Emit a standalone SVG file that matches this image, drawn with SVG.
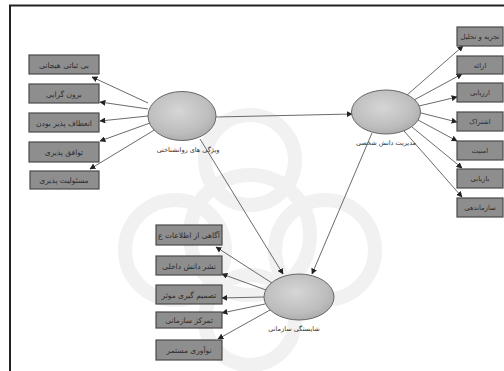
<svg xmlns="http://www.w3.org/2000/svg" width="504" height="371" viewBox="0 0 504 371">
<defs>
<radialGradient id="eg" cx="0.45" cy="0.4" r="0.65">
<stop offset="0" stop-color="#d6d6d6"/>
<stop offset="0.7" stop-color="#bdbdbd"/>
<stop offset="1" stop-color="#a9a9a9"/>
</radialGradient>
<marker id="ah" viewBox="0 0 10 10" refX="9" refY="5" markerWidth="6" markerHeight="6" orient="auto" markerUnits="userSpaceOnUse">
<path d="M0,0 L10,5 L0,10 z" fill="#222"/>
</marker>
</defs>
<style>
.bx{fill:#8e8e8e;stroke:#4a4a4a;stroke-width:1.2}
.bt{font-family:"DejaVu Sans",sans-serif;font-size:7.5px;fill:#2b2b2b;text-anchor:middle}
.rt{font-size:6.8px}
.el{fill:url(#eg);stroke:#666;stroke-width:1}
.lb{font-family:"DejaVu Sans",sans-serif;font-size:6.5px;fill:#333;text-anchor:middle}
.cn{stroke:#5a5a5a;stroke-width:0.9;fill:none;marker-end:url(#ah)}
.wm{fill:none;stroke:#f1f1f1;stroke-width:14}
</style>
<rect width="504" height="371" fill="#fff"/>
<g id="watermark">
<circle class="wm" cx="250" cy="235" r="60"/>
<circle class="wm" cx="175" cy="250" r="50"/>
<circle class="wm" cx="325" cy="250" r="50"/>
<circle class="wm" cx="250" cy="160" r="45"/>
<circle class="wm" cx="250" cy="320" r="45"/>
</g>
<g id="frame">
<line x1="9" y1="5.5" x2="504" y2="5.5" stroke="#222" stroke-width="2"/>
<line x1="10" y1="5" x2="10" y2="371" stroke="#222" stroke-width="2"/>
</g>
<g id="connectors">
<line class="cn" x1="148" y1="103" x2="92" y2="77"/>
<line class="cn" x1="148" y1="109" x2="100" y2="102"/>
<line class="cn" x1="148" y1="116" x2="100" y2="121"/>
<line class="cn" x1="150" y1="123" x2="100" y2="141"/>
<line class="cn" x1="156" y1="129" x2="90" y2="169"/>
<line class="cn" x1="216" y1="117" x2="352" y2="114"/>
<line class="cn" x1="200" y1="139" x2="283" y2="274"/>
<line class="cn" x1="372" y1="133" x2="312" y2="274"/>
<line class="cn" x1="407" y1="95" x2="463" y2="46"/>
<line class="cn" x1="414" y1="100" x2="462" y2="74"/>
<line class="cn" x1="419" y1="106" x2="457" y2="97"/>
<line class="cn" x1="421" y1="113" x2="457" y2="122"/>
<line class="cn" x1="418" y1="120" x2="457" y2="141"/>
<line class="cn" x1="412" y1="127" x2="462" y2="168"/>
<line class="cn" x1="404" y1="131" x2="462" y2="197"/>
<line class="cn" x1="272" y1="283" x2="216" y2="247"/>
<line class="cn" x1="266" y1="290" x2="222" y2="274"/>
<line class="cn" x1="264" y1="297" x2="222" y2="298"/>
<line class="cn" x1="265" y1="304" x2="222" y2="313"/>
<line class="cn" x1="270" y1="310" x2="218" y2="339"/>
</g>
<g id="psych">
<ellipse class="el" cx="182" cy="116" rx="34" ry="24.5"/>
<text class="lb" x="188" y="152">ویژگی های روانشناختی</text>
</g>
<g id="pkm">
<ellipse class="el" cx="386" cy="112" rx="34.5" ry="22"/>
<text class="lb" x="386" y="145">مدیریت دانش شخصی</text>
</g>
<g id="orgcomp">
<ellipse class="el" cx="299" cy="297" rx="35" ry="23"/>
<text class="lb" x="294" y="331">شایستگی سازمانی</text>
</g>
<g id="l1"><rect class="bx" x="29" y="55" width="70" height="19"/><text class="bt" x="64" y="67.5">بی ثباتی هیجانی</text></g>
<g id="l2"><rect class="bx" x="29" y="84" width="70" height="19"/><text class="bt" x="64" y="96.5">برون گرایی</text></g>
<g id="l3"><rect class="bx" x="29" y="113" width="70" height="19"/><text class="bt" x="64" y="125.5">انعطاف پذیر بودن</text></g>
<g id="l4"><rect class="bx" x="29" y="142" width="70" height="20"/><text class="bt" x="64" y="155">توافق پذیری</text></g>
<g id="l5"><rect class="bx" x="30" y="171" width="69" height="18"/><text class="bt" x="64" y="183">مسئولیت پذیری</text></g>
<g id="r1"><rect class="bx" x="457" y="27" width="46" height="19"/><text class="bt rt" x="480" y="39">تجزیه و تحلیل</text></g>
<g id="r2"><rect class="bx" x="457" y="56" width="46" height="18"/><text class="bt rt" x="480" y="67.5">ارائه</text></g>
<g id="r3"><rect class="bx" x="457" y="83" width="46" height="19"/><text class="bt rt" x="480" y="95">ارزیابی</text></g>
<g id="r4"><rect class="bx" x="457" y="112" width="46" height="19"/><text class="bt rt" x="480" y="124">اشتراک</text></g>
<g id="r5"><rect class="bx" x="457" y="141" width="46" height="19"/><text class="bt rt" x="480" y="153">امنیت</text></g>
<g id="r6"><rect class="bx" x="457" y="169" width="46" height="19"/><text class="bt rt" x="480" y="181">بازیابی</text></g>
<g id="r7"><rect class="bx" x="457" y="198" width="46" height="19"/><text class="bt rt" x="480" y="210">سازماندهی</text></g>
<g id="b1"><rect class="bx" x="156" y="225" width="66" height="20"/><text class="bt" x="189" y="238">آگاهی از اطلاعات ع</text></g>
<g id="b2"><rect class="bx" x="156" y="256" width="66" height="19"/><text class="bt" x="189" y="268.5">نشر دانش داخلی</text></g>
<g id="b3"><rect class="bx" x="156" y="285" width="66" height="19"/><text class="bt" x="189" y="297.5">تصمیم گیری موثر</text></g>
<g id="b4"><rect class="bx" x="156" y="312" width="66" height="16"/><text class="bt" x="189" y="323">تمرکز سازمانی</text></g>
<g id="b5"><rect class="bx" x="156" y="340" width="66" height="20"/><text class="bt" x="189" y="353">نوآوری مستمر</text></g>
</svg>
